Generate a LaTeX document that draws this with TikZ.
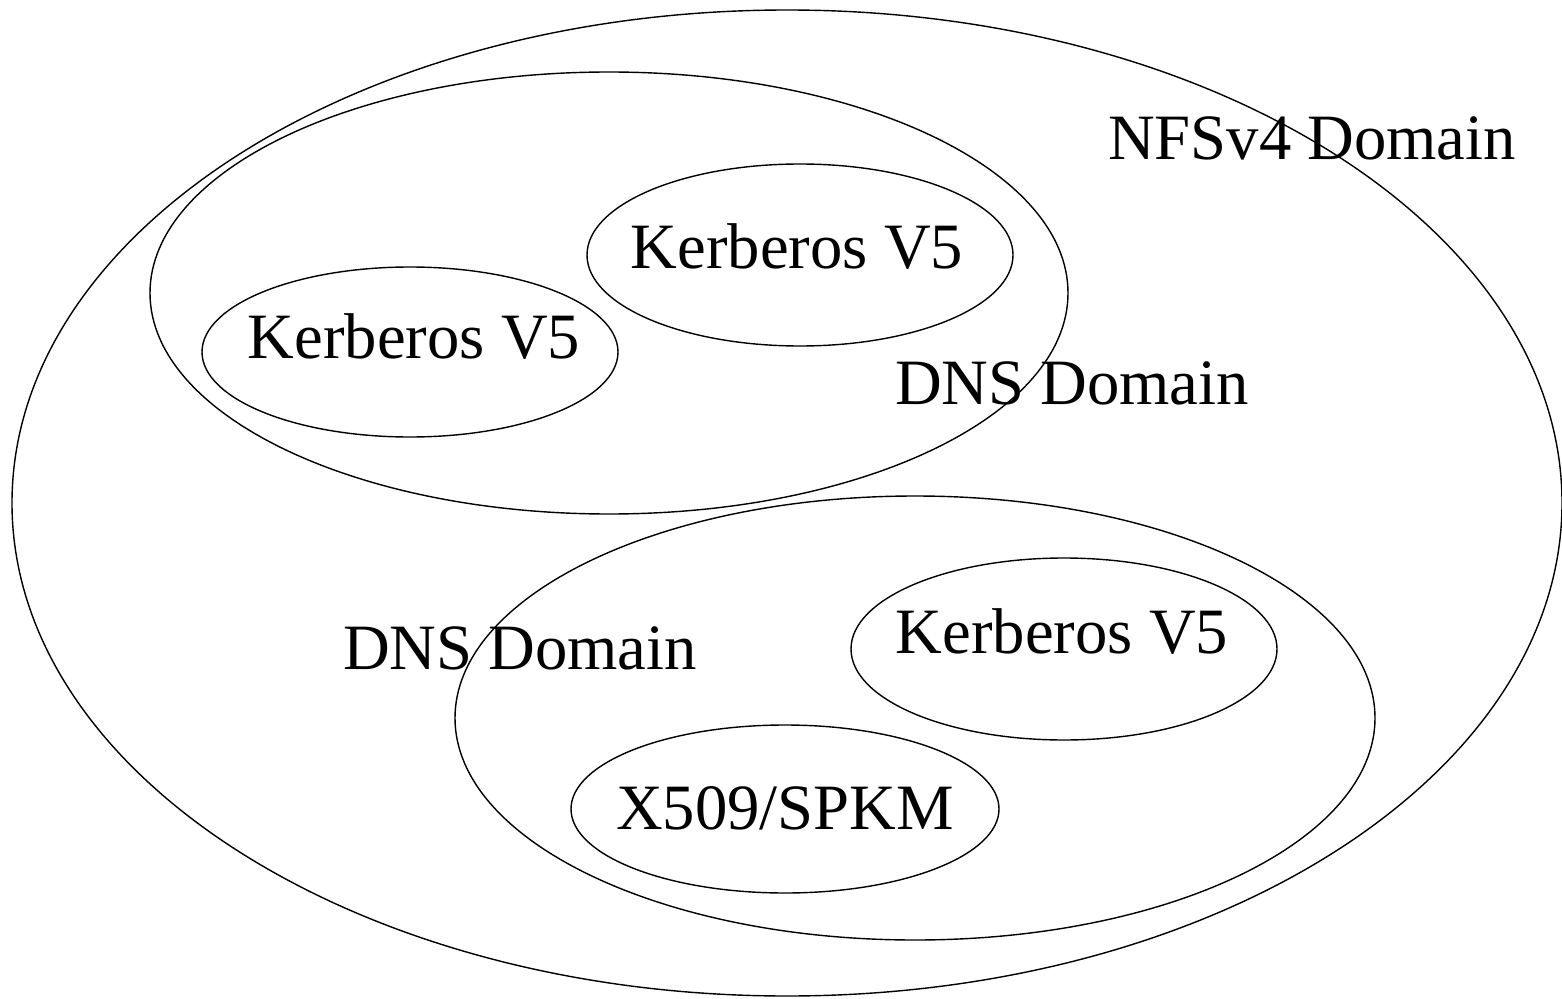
\documentclass[tikz,border=0pt]{standalone}
\usepackage{fontspec}
\setmainfont{Liberation Serif}
\tikzset{lbl/.style={inner sep=0pt, font=\fontsize{18.4}{22}\selectfont}}
\begin{document}
\begin{tikzpicture}
    \useasboundingbox (0,0) rectangle (15.62,9.98);
    %NFSv4 domain
    \draw (7.87,4.95) ellipse [x radius=7.75, y radius=4.93];
    \node[lbl] (nfs) at (13.12,8.60) {NFSv4 Domain};

    %upper DNS domain
    \draw (6.09,7.05) ellipse [x radius=4.59, y radius=2.21];
    \node[lbl] (dnsa) at (10.72,6.15) {DNS Domain};
    \draw (4.10,6.46) ellipse [x radius=2.08, y radius=0.85];
    \node[lbl] (krba) at (4.14,6.61) {Kerberos V5};
    \draw (8.00,7.43) ellipse [x radius=2.13, y radius=0.91];
    \node[lbl] (krbb) at (7.97,7.51) {Kerberos V5};

    %lower DNS domain
    \draw (9.15,2.80) ellipse [x radius=4.60, y radius=2.22];
    \node[lbl] (dnsb) at (5.20,3.50) {DNS Domain};
    \draw (10.64,3.49) ellipse [x radius=2.13, y radius=0.91];
    \node[lbl] (krbc) at (10.62,3.66) {Kerberos V5};
    \draw (7.85,1.89) ellipse [x radius=2.14, y radius=0.84];
    \node[lbl] (spkm) at (7.85,1.90) {X509/SPKM};
\end{tikzpicture}
\end{document}
